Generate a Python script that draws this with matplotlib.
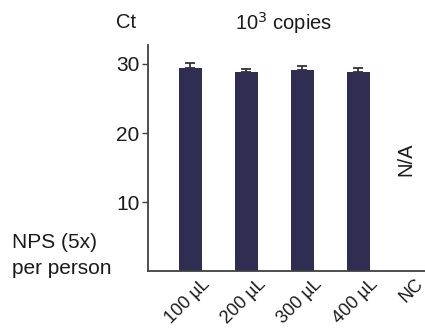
import matplotlib
matplotlib.use("Agg")
import matplotlib.pyplot as plt
import matplotlib.transforms as mtransforms

categories = ["100 µL", "200 µL", "300 µL", "400 µL", "NC"]
ct_values = [29.45, 28.85, 29.15, 28.85]
ct_errors = [0.68, 0.48, 0.6, 0.52]

plt.rcParams['font.family'] = ['Liberation Sans', 'DejaVu Sans']
bar_color = "#2f2d52"
text_color = "#1a1a1a"
spine_color = "#404040"

fig = plt.figure(figsize=(4.25, 3.31), dpi=100)
ax = fig.add_axes([0.348, 0.181, 0.652, 0.683])

x = list(range(len(categories)))
ax.bar(x[:len(ct_values)], ct_values, width=0.41, color=bar_color, zorder=2)
ax.errorbar(x[:len(ct_values)], ct_values, yerr=[[0]*len(ct_errors), ct_errors],
            fmt='none', ecolor="#333333", elinewidth=1.3, capsize=3.5, capthick=1.3, zorder=1)

ax.set_xlim(-0.76, 4.19)
ax.set_ylim(0, 32.75)
ax.set_yticks([10, 20, 30])
ax.tick_params(axis='y', labelsize=15, length=4, width=1, colors=spine_color, labelcolor=text_color, pad=2)
ax.set_xticks(x)
ax.set_xticklabels(categories)
ax.tick_params(axis='x', length=0, labelsize=13, labelcolor=text_color, pad=3)
for i, lbl in enumerate(ax.get_xticklabels()):
    dx = 0 if i == len(categories) - 1 else 11
    offset = mtransforms.ScaledTranslation(dx/100, 0, fig.dpi_scale_trans)
    lbl.set_rotation(45)
    lbl.set_ha('right')
    lbl.set_va('top')
    lbl.set_rotation_mode('anchor')
    lbl.set_transform(lbl.get_transform() + offset)

for s in ['top', 'right']:
    ax.spines[s].set_visible(False)
for s in ['left', 'bottom']:
    ax.spines[s].set_color(spine_color)
    ax.spines[s].set_linewidth(1.3)

fig.text(126/425, 1 - 23/331, "Ct", ha='center', va='center', fontsize=14.5, color=text_color)
fig.text(284/425, 1 - 23/331, r"10$^{3}$ copies", ha='center', va='center', fontsize=14.5, color=text_color)
fig.text(12/425, 1 - 243/331, "NPS (5x)", ha='left', va='center', fontsize=15, color=text_color)
fig.text(12/425, 1 - 268/331, "per person", ha='left', va='center', fontsize=15, color=text_color)
ax.text(3.85, 16.2, "N/A", rotation=90, ha='center', va='center', fontsize=14.5, color=text_color,
        transform=ax.transData)

fig.savefig("out.png", dpi=100)
